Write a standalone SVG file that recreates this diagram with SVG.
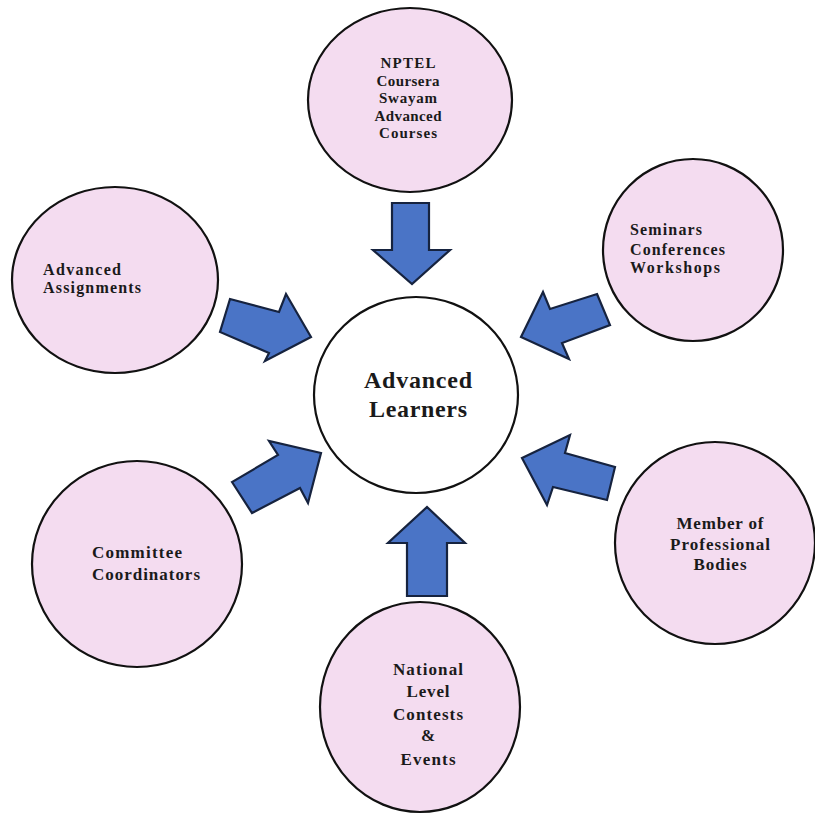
<svg xmlns="http://www.w3.org/2000/svg" width="815" height="821" viewBox="0 0 815 821">
<style>
.node{fill:#f4dcf0;stroke:#111;stroke-width:2.2}
.center{fill:#fff;stroke:#111;stroke-width:2.2}
.arrow{fill:#4a74c6;stroke:#16233f;stroke-width:2.2;stroke-linejoin:miter}
text{font-family:"Liberation Serif","Times New Roman",serif;font-weight:bold;fill:#1a1a1a}
.m{text-anchor:middle}
</style>
<rect width="815" height="821" fill="#fff"/>
<g id="connectors">
<polygon class="arrow" points="392,203 429,203 429,250 450,250 412,284 373,250 392,250"/>
<polygon class="arrow" points="407,596 447,596 447,543 465,543 427,507 388,543 407,543"/>
<polygon class="arrow" points="230,299 279,312 286,294 311,337 265,361 269,353 220,332"/>
<polygon class="arrow" points="597,294 610,325 562,343 569,359 521,337 543,292 550,309"/>
<polygon class="arrow" points="232,482 252,513 300,488 308,503 321,453 269,441 278,455"/>
<polygon class="arrow" points="615,467 607,500 553,487 547,505 522,458 570,435 565,453"/>
</g>
<g id="nptel">
<ellipse class="node" cx="410" cy="100" rx="102" ry="92"/>
<text class="m" font-size="15" x="408" y="68" textLength="55" lengthAdjust="spacing">NPTEL</text>
<text class="m" font-size="15" x="408" y="86" textLength="63" lengthAdjust="spacing">Coursera</text>
<text class="m" font-size="15" x="408" y="103" textLength="58" lengthAdjust="spacing">Swayam</text>
<text class="m" font-size="15" x="408" y="121" textLength="67" lengthAdjust="spacing">Advanced</text>
<text class="m" font-size="15" x="408" y="138" textLength="58" lengthAdjust="spacing">Courses</text>
</g>
<g id="seminars">
<ellipse class="node" cx="693" cy="250" rx="90" ry="91"/>
<text font-size="16" x="630" y="235" textLength="72" lengthAdjust="spacing">Seminars</text>
<text font-size="16" x="630" y="255" textLength="95" lengthAdjust="spacing">Conferences</text>
<text font-size="16" x="630" y="273" textLength="90" lengthAdjust="spacing">Workshops</text>
</g>
<g id="assignments">
<ellipse class="node" cx="115" cy="280" rx="103" ry="93"/>
<text font-size="16" x="43" y="275" textLength="78" lengthAdjust="spacing">Advanced</text>
<text font-size="16" x="43" y="293" textLength="98" lengthAdjust="spacing">Assignments</text>
</g>
<g id="center">
<ellipse class="center" cx="416" cy="395" rx="102" ry="98"/>
<text class="m" font-size="24" x="418" y="388" textLength="108" lengthAdjust="spacing">Advanced</text>
<text class="m" font-size="24" x="418" y="417" textLength="98" lengthAdjust="spacing">Learners</text>
</g>
<g id="committee">
<ellipse class="node" cx="137" cy="564" rx="105" ry="103"/>
<text font-size="17" x="92" y="558" textLength="90" lengthAdjust="spacing">Committee</text>
<text font-size="17" x="92" y="580" textLength="108" lengthAdjust="spacing">Coordinators</text>
</g>
<g id="member">
<ellipse class="node" cx="715" cy="543" rx="100" ry="101"/>
<text class="m" font-size="17" x="720" y="529" textLength="87" lengthAdjust="spacing">Member of</text>
<text class="m" font-size="17" x="720" y="550" textLength="100" lengthAdjust="spacing">Professional</text>
<text class="m" font-size="17" x="720" y="570" textLength="53" lengthAdjust="spacing">Bodies</text>
</g>
<g id="national">
<ellipse class="node" cx="420" cy="707" rx="100" ry="105"/>
<text class="m" font-size="17" x="428" y="675" textLength="70" lengthAdjust="spacing">National</text>
<text class="m" font-size="17" x="428" y="697" textLength="43" lengthAdjust="spacing">Level</text>
<text class="m" font-size="17" x="428" y="720" textLength="70" lengthAdjust="spacing">Contests</text>
<text class="m" font-size="17" x="428" y="741">&amp;</text>
<text class="m" font-size="17" x="428" y="765" textLength="55" lengthAdjust="spacing">Events</text>
</g>
</svg>
